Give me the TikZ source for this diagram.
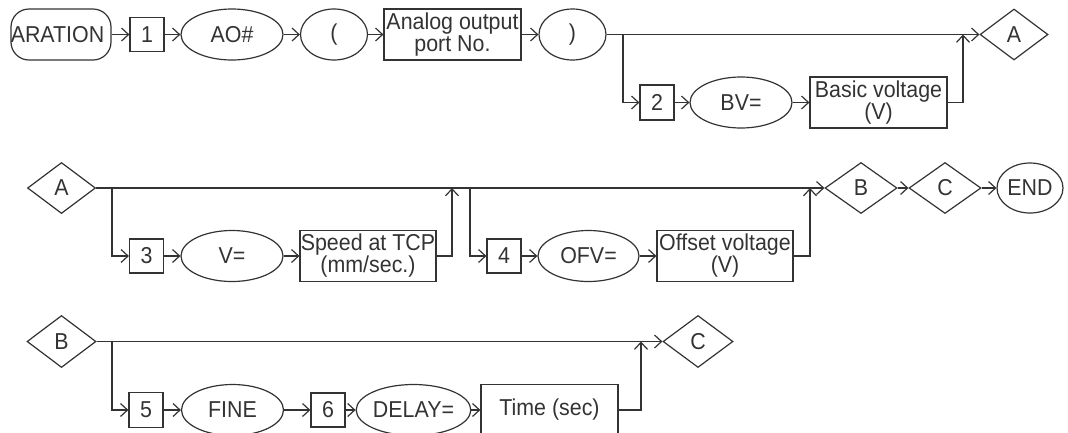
\documentclass[tikz,border=0pt]{standalone}
\usepackage{fontspec}
\setmainfont{Liberation Sans}[FakeStretch=0.93]
\usetikzlibrary{shapes.geometric,arrows.meta}

\begin{document}
\begin{tikzpicture}[x=1pt, y=-1pt, color=black!80, line width=1.2pt,
    font=\fontsize{23}{22}\selectfont,
    >={Straight Barb[length=7pt,width=13pt]},
    numbox/.style={draw, rectangle, inner sep=0pt, minimum width=34pt, minimum height=34pt},
    wordbox/.style={draw, rectangle, align=center, inner sep=0pt, minimum width=137pt, minimum height=51pt},
    oval/.style={draw, ellipse, inner sep=0pt, minimum width=102pt, minimum height=51pt},
    conn/.style={draw, diamond, inner sep=0pt, minimum width=70pt, minimum height=52pt},
    stadium/.style={draw, rectangle, rounded corners=18pt, inner sep=0pt, minimum width=100pt, minimum height=51pt}]
                \useasboundingbox (0,0) rectangle (1068,432);
                \clip (0,0) rectangle (1068,432);

                % Nodes, first line
                \node[stadium] (prep) at (61,34.5) {\hspace*{-7pt}ARATION};
                \node[numbox] (n1) at (147,34.5) {1};
                \node[oval] (ao) at (232,34.5) {AO\#};
                \node[oval, minimum width=67pt] (lpar) at (334,34.5) {(};
                \node[wordbox] (port) at (452.5,34.5) {Analog output\\port No.};
                \node[oval, minimum width=67pt] (rpar) at (572.5,34.5) {)};
                \coordinate (fork1) at (623,34.5);
                \node[numbox, minimum height=35pt] (n2) at (657,102.5) {2};
                \node[oval] (bv) at (741,102.5) {BV=};
                \node[wordbox] (basic) at (878.5,102.5) {Basic voltage\\(V)};
                \coordinate (join1) at (963,34.5);
                \node[conn, minimum width=68pt, minimum height=51pt] (a1) at (1014,34.5) {A};

                % Nodes, second line
                \node[conn, minimum width=68pt, minimum height=51pt] (a2) at (61.5,188) {A};
                \coordinate (fork2) at (112,188);
                \node[numbox] (n3) at (146.5,256) {3};
                \node[oval] (vel) at (232,256) {V=};
                \node[wordbox, minimum width=136pt] (speed) at (368,256) {Speed at TCP\\(mm/sec.)};
                \coordinate (join2) at (452,188);
                \coordinate (fork3) at (470,188);
                \node[numbox] (n4) at (504,256) {4};
                \node[oval, minimum width=101pt] (ofv) at (588.5,256) {OFV=};
                \node[wordbox, minimum width=136pt] (offset) at (725,256) {Offset voltage\\(V)};
                \coordinate (join3) at (810,188);
                \node[conn, minimum width=72pt, minimum height=51pt] (b2) at (861,188) {B};
                \node[conn, minimum width=72pt, minimum height=51pt] (c2) at (945,188) {C};
                \node[oval, minimum width=66pt, minimum height=50pt] (fin) at (1030,188) {END};

                % Nodes, third line
                \node[conn, minimum width=69pt] (b3) at (61.5,341.5) {B};
                \coordinate (fork4) at (112,341.5);
                \node[numbox, minimum height=35pt] (n5) at (146,410) {5};
                \node[oval] (fine) at (232.5,410) {FINE};
                \node[numbox] (n6) at (328,410) {6};
                \node[oval, minimum width=103pt] (delay) at (413.5,410) {DELAY=};
                \node[wordbox] (time) at (549.5,410) {Time (sec)};
                \coordinate (join4) at (641,341.5);
                \node[conn] (c3) at (698,341.5) {C};

                % Edges, first line
                \draw[->] (prep)--(n1);
                \draw[->] (n1)--(ao);
                \draw[->] (ao)--(lpar);
                \draw[->] (lpar)--(port);
                \draw[->] (port)--(rpar);
                \draw[->] (rpar)--(a1);
                \draw[->] (fork1) |- (n2);
                \draw[->] (n2)--(bv);
                \draw[->] (bv)--(basic);
                \draw[->] (basic) -| (join1);

                % Edges, second line
                \draw[->] (a2)--(b2);
                \draw[->] (fork2) |- (n3);
                \draw[->] (n3)--(vel);
                \draw[->] (vel)--(speed);
                \draw[->] (speed) -| (join2);
                \draw[->] (fork3) |- (n4);
                \draw[->] (n4)--(ofv);
                \draw[->] (ofv)--(offset);
                \draw[->] (offset) -| (join3);
                \draw[->] (b2)--(c2);
                \draw[->] (c2)--(fin);

                % Edges, third line
                \draw[->] (b3)--(c3);
                \draw[->] (fork4) |- (n5);
                \draw[->] (n5)--(fine);
                \draw[->] (fine)--(n6);
                \draw[->] (n6)--(delay);
                \draw[->] (delay)--(time);
                \draw[->] (time) -| (join4);
            \end{tikzpicture}
\end{document}
